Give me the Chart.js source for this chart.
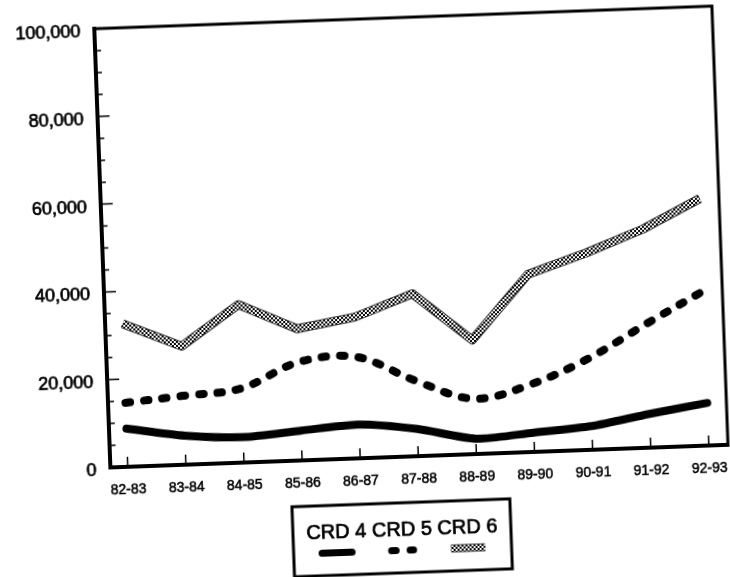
<!DOCTYPE html>
<html><head><meta charset="utf-8">
<script src="https://cdn.jsdelivr.net/npm/chart.js@4.4.0/dist/chart.umd.min.js"></script>
<style>
html,body{margin:0;padding:0;background:#fff;overflow:hidden;width:730px;height:577px;}
#wrap{position:absolute;left:0;top:0;width:730px;height:577px;transform:rotate(-2.1deg);transform-origin:50% 50%;}
canvas{display:block}
</style></head><body>
<div id="wrap"><canvas id="c" width="730" height="577"></canvas></div>
<script>
// ---- data ----
const categories = ['82-83','83-84','84-85','85-86','86-87','87-88','88-89','89-90','90-91','91-92','92-93'];
const seriesNames = ['CRD 4','CRD 5','CRD 6'];
const crd4 = [8700, 6600, 5800, 6800, 7700, 6200, 3500, 4400, 5400, 7700, 9700];
const crd5 = [14600, 15700, 16900, 22400, 23100, 17200, 12600, 15500, 20900, 28200, 35200];
const crd6 = [32600, 27000, 36000, 30000, 32200, 37000, 26000, 40500, 44800, 49800, 56300];
const yTickValues = [0, 20000, 40000, 60000, 80000, 100000];
const yMinorStep = 5000;

const FONT = '"Liberation Sans", Arial, Helvetica, sans-serif';
Chart.defaults.font.family = FONT;
Chart.defaults.color = '#000';

const canvas = document.getElementById('c');
const mainCtx = canvas.getContext('2d');

function hatchPattern(){
  const p = document.createElement('canvas'); p.width = 4; p.height = 4;
  const g = p.getContext('2d');
  g.fillStyle = '#fff'; g.fillRect(0,0,4,4);
  g.fillStyle = '#000'; g.fillRect(0,0,2,2); g.fillRect(2,2,2,2);
  return mainCtx.createPattern(p, 'repeat');
}
const hatch = hatchPattern();
const toPts = arr => arr.map((v,i)=>({x:i, y:v}));

const sampleLen = [30, 22, 34];

const decor = {
  id: 'decor',
  beforeDatasetsDraw(chart){
    // dark rim under the hatched CRD 6 line
    const meta = chart.getDatasetMeta(2);
    const ctx = chart.ctx;
    const ca = chart.chartArea;
    ctx.save();
    ctx.beginPath(); ctx.rect(ca.left, ca.top, ca.right-ca.left, ca.bottom-ca.top); ctx.clip();
    ctx.beginPath();
    meta.data.forEach((pt,i)=> i ? ctx.lineTo(pt.x, pt.y) : ctx.moveTo(pt.x, pt.y));
    ctx.lineWidth = 9; ctx.strokeStyle = '#333'; ctx.lineJoin = 'round'; ctx.lineCap = 'butt';
    ctx.stroke();
    ctx.restore();
  },
  afterDraw(chart){
    const ctx = chart.ctx;
    const {left, right, top, bottom} = chart.chartArea;
    const xs = chart.scales.x, ys = chart.scales.y;
    ctx.save();
    ctx.strokeStyle = '#000';
    // frame top & right
    ctx.lineWidth = 3;
    ctx.beginPath(); ctx.moveTo(left-2, top); ctx.lineTo(right, top); ctx.lineTo(right, bottom+2); ctx.stroke();
    // inward tick marks
    ctx.lineWidth = 1.5;
    ctx.beginPath();
    for (let v = yMinorStep; v < ys.max; v += yMinorStep){
      const py = ys.getPixelForValue(v);
      const len = (v % 20000 === 0) ? 10 : 4;
      ctx.moveTo(left, py); ctx.lineTo(left + 2 + len, py);
    }
    categories.forEach((c,i)=>{
      const px = xs.getPixelForValue(i);
      ctx.moveTo(px, bottom); ctx.lineTo(px, bottom - 10);
    });
    ctx.stroke();

    // legend box: labels with samples below
    const box = {l:284, t:504, r:502, b:574};
    ctx.lineWidth = 3;
    ctx.strokeRect(box.l, box.t, box.r-box.l, box.b-box.t);
    ctx.font = '20px ' + FONT;
    ctx.fillStyle = '#000';
    ctx.textBaseline = 'alphabetic';
    const dsets = chart.data.datasets;
    const names = dsets.map(d=>d.label);
    const sp = ctx.measureText(' ').width;
    const widths = names.map(n=>ctx.measureText(n).width);
    const total = widths.reduce((a,b)=>a+b,0) + sp*(names.length-1);
    let cx = (box.l+box.r)/2 - total/2;
    names.forEach((n,i)=>{
      ctx.lineWidth = 0.7;
      ctx.fillText(n, cx, 537);
      ctx.strokeText(n, cx, 537);
      const mid = cx + widths[i]/2;
      const ds = dsets[i];
      const L = sampleLen[i];
      const sy = 551.5;
      ctx.save();
      ctx.beginPath(); ctx.moveTo(mid-L/2, sy); ctx.lineTo(mid+L/2, sy);
      if (i === 2){
        ctx.lineWidth = 8; ctx.strokeStyle = '#333'; ctx.lineCap='butt'; ctx.stroke();
        ctx.lineWidth = 6; ctx.strokeStyle = ds.borderColor; ctx.stroke();
      } else {
        ctx.lineWidth = 7; ctx.strokeStyle = ds.borderColor;
        ctx.lineCap = 'round';
        ctx.setLineDash(ds.borderDash || []);
        ctx.stroke();
      }
      ctx.restore();
      cx += widths[i] + sp;
    });
    ctx.restore();
  }
};

new Chart(canvas, {
  type: 'line',
  data: {
    datasets: [
      {label: seriesNames[0], data: toPts(crd4), borderColor:'#000', borderWidth:8, tension:0.25,
       borderCapStyle:'round', borderJoinStyle:'round', pointRadius:0, fill:false},
      {label: seriesNames[1], data: toPts(crd5), borderColor:'#000', borderWidth:8, tension:0.35,
       borderDash:[4.5,14], borderCapStyle:'round', borderJoinStyle:'round', pointRadius:0, fill:false},
      {label: seriesNames[2], data: toPts(crd6), borderColor: hatch, borderWidth:7, tension:0,
       borderCapStyle:'butt', borderJoinStyle:'round', pointRadius:0, fill:false}
    ]
  },
  options: {
    responsive: false,
    animation: false,
    events: [],
    devicePixelRatio: 1,
    layout: {padding: {top:19, right:8, left:0, bottom:0}},
    plugins: {legend:{display:false}, tooltip:{enabled:false}},
    scales: {
      x: {
        type: 'linear', min: -0.3, max: 10.33,
        afterBuildTicks: s => { s.ticks = categories.map((_,i)=>({value:i})); },
        afterFit: s => { s.height = 119; },
        grid: {display:false, drawTicks:true, tickLength:15},
        border: {display:true, width:4, color:'#000'},
        ticks: {callback: v => categories[v], font:{size:14}, color:'#000', padding:0, maxRotation:0, autoSkip:false,
                textStrokeColor:'#000', textStrokeWidth:0.5}
      },
      y: {
        min: 0, max: 100000,
        afterBuildTicks: s => { s.ticks = yTickValues.map(v=>({value:v})); },
        afterFit: s => { s.width = 104; },
        grid: {display:false, drawTicks:true, tickLength:14},
        border: {display:true, width:4, color:'#000'},
        ticks: {callback: v => v.toLocaleString('en-US'), font:{size:18}, color:'#000', padding:0, labelOffset:3,
                textStrokeColor:'#000', textStrokeWidth:0.7}
      }
    }
  },
  plugins: [decor]
});
</script>
</body></html>
